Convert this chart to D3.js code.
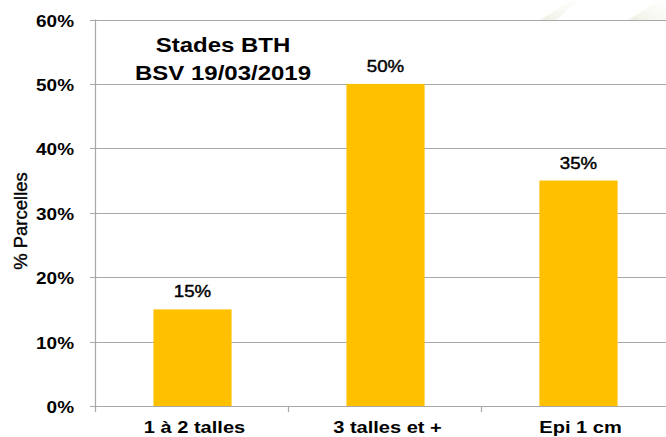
<!DOCTYPE html>
<html>
<head>
<meta charset="utf-8">
<script src="https://cdn.jsdelivr.net/npm/d3@7"></script>
<style>
  body { margin: 0; background: #fff; }
  text { font-family: "Liberation Sans", Arial, sans-serif; fill: #000; }
</style>
</head>
<body>
<script>
const categories = ["1 à 2 talles", "3 talles et +", "Epi 1 cm"];
const values = [0.15, 0.50, 0.35];
const yTicks = [0, 0.1, 0.2, 0.3, 0.4, 0.5, 0.6];
const titleLines = ["Stades BTH", "BSV 19/03/2019"];

const W = 666, H = 437;
const margin = { top: 19.5, left: 96, bottom: 31 };
const plotBottom = H - margin.bottom; // 406

const svg = d3.select("body").append("svg")
    .attr("width", W)
    .attr("height", H);

// faint watermark in the top right corner
const defs = svg.append("defs");
const grad = defs.append("linearGradient").attr("id", "wm")
    .attr("x1", "0").attr("y1", "1").attr("x2", "1").attr("y2", "0");
grad.append("stop").attr("offset", "0").attr("stop-color", "#e6edd9").attr("stop-opacity", 0.8);
grad.append("stop").attr("offset", "1").attr("stop-color", "#f6f8f0").attr("stop-opacity", 0.1);
svg.append("path")
    .attr("d", "M540,20 L556,20 L580,0 L572,0 Z")
    .attr("fill", "url(#wm)");
svg.append("path")
    .attr("d", "M628,20 L666,20 L666,2 L660,0 Z")
    .attr("fill", "url(#wm)");

const x = d3.scaleBand()
    .domain(categories)
    .range([margin.left, margin.left + 3 * 193])
    .paddingInner(0.595)
    .paddingOuter(0.2975);

const y = d3.scaleLinear()
    .domain([0, 0.6])
    .range([plotBottom, margin.top]);

// gridlines
svg.append("g")
    .selectAll("line")
    .data(yTicks)
    .enter().append("line")
    .attr("x1", margin.left - 6)
    .attr("x2", W)
    .attr("y1", d => Math.round(y(d)) + 0.5)
    .attr("y2", d => Math.round(y(d)) + 0.5)
    .attr("stroke", "#a9a9a9")
    .attr("stroke-width", 1.2);

// y axis line
svg.append("line")
    .attr("x1", margin.left - 0.5).attr("x2", margin.left - 0.5)
    .attr("y1", margin.top).attr("y2", plotBottom + 6)
    .attr("stroke", "#a9a9a9")
    .attr("stroke-width", 1.2);

// x tick marks at category boundaries
const step = x.step();
svg.append("g")
    .selectAll("line")
    .data(categories)
    .enter().append("line")
    .attr("x1", (d, i) => margin.left + (i + 1) * step - 0.5)
    .attr("x2", (d, i) => margin.left + (i + 1) * step - 0.5)
    .attr("y1", plotBottom)
    .attr("y2", plotBottom + 6)
    .attr("stroke", "#a9a9a9")
    .attr("stroke-width", 1.2);

// stretched text helper
function stretchText(sel, px, py, sx) {
    return sel.attr("transform", "translate(" + px + "," + py + ") scale(" + sx + ",1)");
}

// y tick labels
svg.append("g")
    .selectAll("text")
    .data(yTicks)
    .enter().append("text")
    .each(function (d) {
        stretchText(d3.select(this), 74, y(d) + 7, 1.15);
    })
    .attr("text-anchor", "end")
    .attr("font-size", "16.5px")
    .attr("font-weight", "bold")
    .text(d => d3.format(".0%")(d));

// bars
svg.append("g")
    .selectAll("rect")
    .data(values)
    .enter().append("rect")
    .attr("x", (d, i) => x(categories[i]))
    .attr("y", d => y(d))
    .attr("width", x.bandwidth())
    .attr("height", d => plotBottom - y(d))
    .attr("fill", "#FFC000");

// value labels
svg.append("g")
    .selectAll("text")
    .data(values)
    .enter().append("text")
    .each(function (d, i) {
        stretchText(d3.select(this), x(categories[i]) + x.bandwidth() / 2, y(d) - 12, 1.1);
    })
    .attr("text-anchor", "middle")
    .attr("font-size", "17px")
    .attr("stroke", "#000")
    .attr("stroke-width", 0.45)
    .text(d => d3.format(".0%")(d));

// x labels
svg.append("g")
    .selectAll("text")
    .data(categories)
    .enter().append("text")
    .each(function (d) {
        stretchText(d3.select(this), x(d) + x.bandwidth() / 2 + 2, 433, 1.18);
    })
    .attr("text-anchor", "middle")
    .attr("font-size", "17px")
    .attr("font-weight", "bold")
    .text(d => d);

// y axis title
svg.append("text")
    .attr("transform", "translate(27,221) rotate(-90)")
    .attr("text-anchor", "middle")
    .attr("font-size", "18.5px")
    .attr("stroke", "#000")
    .attr("stroke-width", 0.35)
    .text("% Parcelles");

// chart title
svg.append("g")
    .selectAll("text")
    .data(titleLines)
    .enter().append("text")
    .each(function (d, i) {
        stretchText(d3.select(this), 223, 52 + i * 28, 1.2);
    })
    .attr("text-anchor", "middle")
    .attr("font-size", "20px")
    .attr("font-weight", "bold")
    .text(d => d);
</script>
</body>
</html>
